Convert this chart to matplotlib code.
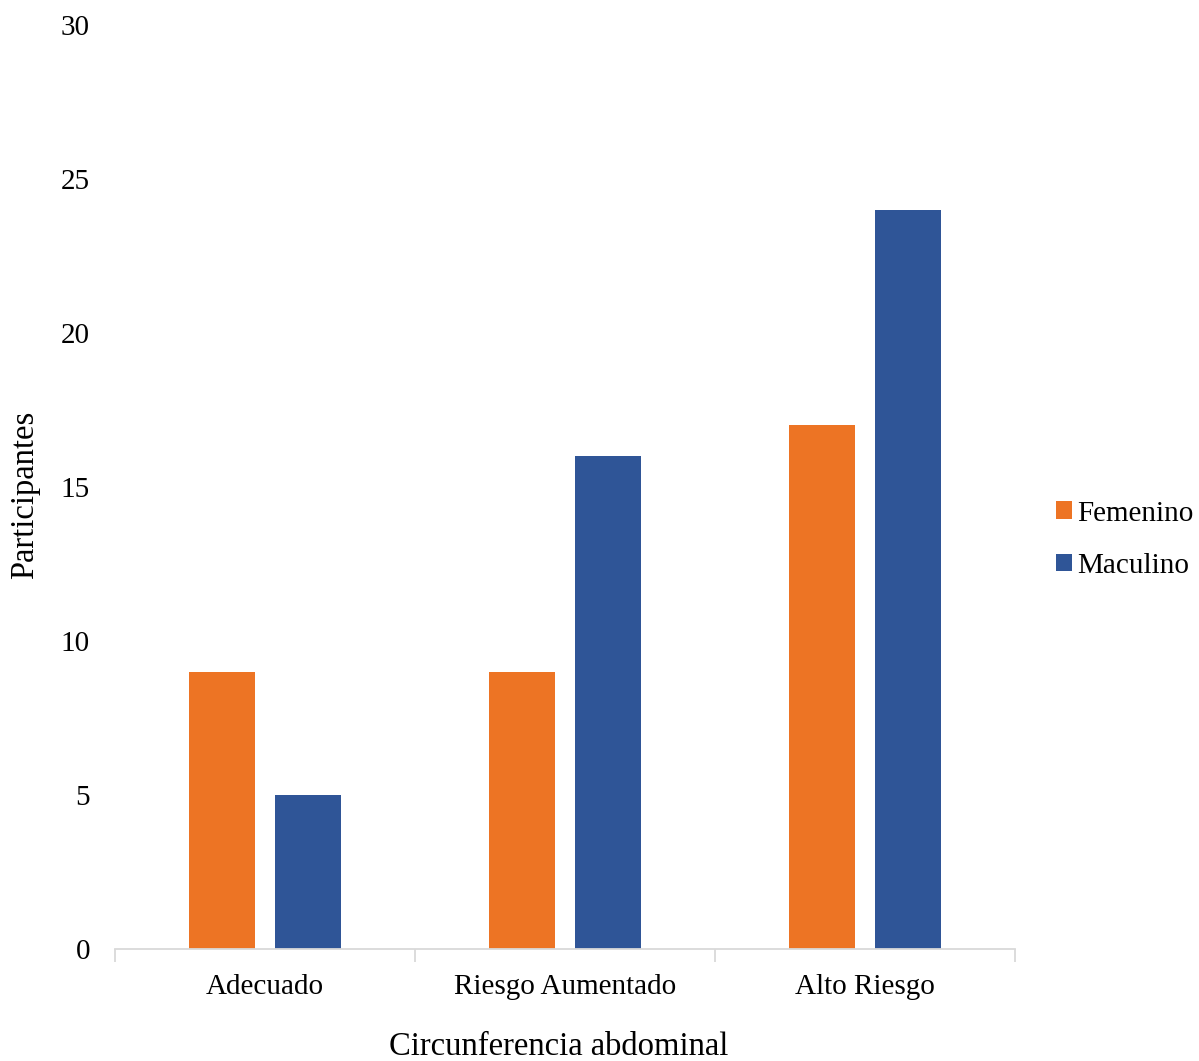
import numpy as np
from matplotlib import pyplot as plt

categorias = ["Adecuado", "Riesgo Aumentado", "Alto Riesgo"]
femenino = [9, 9, 17]
masculino = [5, 16, 24]
series = ["Femenino", "Maculino"]

plt.rcParams['font.family'] = ['Liberation Serif', 'DejaVu Serif']

fig = plt.figure(figsize=(11.99, 10.61), dpi=100)
ax = fig.add_axes([115/1199, 112/1061, 900/1199, 924/1061])

x = np.arange(len(categorias))
ancho = 0.22
ax.bar(x - 0.1417, femenino, ancho, color="#ED7424", label=series[0])
ax.bar(x + 0.1417, masculino, ancho, color="#2F5597", label=series[1])

ax.set_xlim(-0.5, 2.5)
ax.set_ylim(0, 30)
ax.set_yticks(range(0, 31, 5))

# category labels centred, tick marks on the boundaries
ax.set_xticks(x)
ax.set_xticklabels(categorias)
ax.set_xticks(np.arange(-0.5, 3.0, 1.0), minor=True)
ax.tick_params(axis='x', which='major', length=0, pad=18, labelsize=21)
ax.tick_params(axis='x', which='minor', length=9, color="#d9d9d9", width=1.3)
ax.tick_params(axis='y', length=0, pad=18, labelsize=21)

for s in ['top', 'right', 'left']:
  ax.spines[s].set_visible(False)
ax.spines['bottom'].set_color("#d9d9d9")
ax.spines['bottom'].set_linewidth(1.3)

ax.set_xlabel("Circunferencia abdominal", fontsize=23.5)
ax.set_ylabel("Participantes", fontsize=23.5)
ax.xaxis.set_label_coords(444/900, -98/924)
ax.yaxis.set_label_coords(-90/900, 454/924)
ax.xaxis.label.set_va('center')
ax.yaxis.label.set_va('center')

ax.legend(loc='center left', bbox_to_anchor=(1.046, 0.443), frameon=False,
          fontsize=21, handlelength=0.55, handleheight=0.55, handletextpad=0.15,
          labelspacing=0.9, borderaxespad=0, borderpad=0)

fig.savefig("out.png", dpi=100)
